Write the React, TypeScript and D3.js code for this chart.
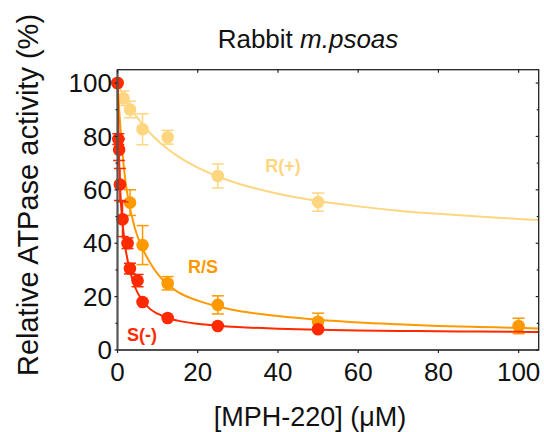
import React from "react";
import * as d3 from "d3";

// ---- data ----
const sConc = [0, 0.2, 0.4, 0.6, 1.25, 2.5, 3.1, 5, 6.25, 12.5, 25, 50];
const sVals = [100, 79, 75, 62, 49, 40, 30.5, 26, 18, 12, 9, 7.8];
const sErr = [0, 2, 4, 6, 6.5, 2, 2, 2.3, 0, 0, 0, 0];

const rsConc = [0, 3.125, 6.25, 12.5, 25, 50, 100];
const rsVals = [100, 55.2, 39.3, 25, 16.9, 10.6, 9.0];
const rsErr = [0, 4.8, 7.3, 2.5, 3.4, 3.2, 2.9];

const rConc = [0, 1.5, 3.125, 6.25, 12.5, 25, 50];
const rVals = [100, 94.3, 90.1, 82.7, 79.7, 65.2, 55.4];
const rErr = [0, 2.7, 3.1, 5.8, 2.6, 4.5, 3.4];

// fitted curves
const sCurveX = [0, 0.25, 0.5, 1, 1.5, 2, 3, 4, 5, 6, 8, 10, 12.5, 15, 20, 25, 30, 40, 50, 60, 70, 80, 90, 100, 105];
const sCurveY = [100, 80, 66, 52, 44, 38, 30.5, 25, 21.5, 19, 15.5, 13.6, 12, 11, 9.8, 9.1, 8.6, 8.0, 7.6, 7.3, 7.15, 7.0, 6.9, 6.8, 6.75];
const rsCurveX = [0, 0.5, 1, 2, 3, 4, 5, 6.25, 8, 10, 12.5, 15, 20, 25, 30, 40, 50, 60, 70, 80, 90, 100, 105];
const rsCurveY = [100, 88, 78, 63, 54, 47.5, 42.5, 38, 33, 28.5, 24.5, 21.8, 18.5, 16.3, 14.7, 12.7, 11.3, 10.3, 9.6, 9.0, 8.6, 8.3, 8.1];
const rCurveX = [0, 1, 2, 3, 5, 7.5, 10, 12.5, 15, 20, 25, 30, 40, 50, 60, 70, 80, 90, 100, 105];
const rCurveY = [100, 96.8, 94, 91.4, 86.9, 82.3, 78.5, 75.3, 72.6, 68.3, 65, 62.4, 58.5, 55.8, 53.8, 52.2, 51, 50, 49.1, 48.7];

const xTicks = [0, 20, 40, 60, 80, 100];
const yTicks = [0, 20, 40, 60, 80, 100];
const yMinor = [10, 30, 50, 70, 90];

const RED = "#ff2a00";
const ORANGE = "#ff9900";
const LIGHT = "#ffd680";
const FONT = "'Liberation Sans', Arial, sans-serif";

const L = 117.5, R = 538.7, T = 69.7, B = 350;

export default function App() {
  const x = d3.scaleLinear().domain([0, 105]).range([L, R]);
  const y = d3.scaleLinear().domain([0, 105]).range([B, T]);
  const line = d3
    .line<[number, number]>()
    .x((d) => x(d[0]))
    .y((d) => y(d[1]))
    .curve(d3.curveMonotoneX);

  const series = [
    { conc: rConc, vals: rVals, err: rErr, cx: rCurveX, cy: rCurveY, color: LIGHT },
    { conc: rsConc, vals: rsVals, err: rsErr, cx: rsCurveX, cy: rsCurveY, color: ORANGE },
    { conc: sConc, vals: sVals, err: sErr, cx: sCurveX, cy: sCurveY, color: RED },
  ];

  return (
    <svg
      width={544}
      height={432}
      style={{ position: "absolute", left: 0, top: 0, background: "#fff" }}
      fontFamily={FONT}
    >
      <rect x={0} y={0} width={544} height={432} fill="#fff" />
      {/* title */}
      <text x={308} y={48} fontSize={26} textAnchor="middle" fill="#111">
        Rabbit <tspan fontStyle="italic">m.psoas</tspan>
      </text>

      {/* series */}
      {series.map((s, i) => (
        <g key={i}>
          <path
            d={line(s.cx.map((cx, j) => [cx, s.cy[j]] as [number, number])) || ""}
            fill="none"
            stroke={s.color}
            strokeWidth={2}
          />
          {s.conc.map((c, j) =>
            s.err[j] > 0 ? (
              <g key={"e" + j} stroke={s.color} strokeWidth={1.5}>
                <line x1={x(c)} x2={x(c)} y1={y(s.vals[j] - s.err[j])} y2={y(s.vals[j] + s.err[j])} />
                <line x1={x(c) - 6} x2={x(c) + 6} y1={y(s.vals[j] - s.err[j])} y2={y(s.vals[j] - s.err[j])} />
                <line x1={x(c) - 6} x2={x(c) + 6} y1={y(s.vals[j] + s.err[j])} y2={y(s.vals[j] + s.err[j])} />
              </g>
            ) : null
          )}
          {s.conc.map((c, j) => (
            <circle key={"p" + j} cx={x(c)} cy={y(s.vals[j])} r={6.3} fill={s.color} />
          ))}
        </g>
      ))}

      {/* series labels */}
      <text x={283} y={172} fontSize={18} fontWeight="bold" textAnchor="middle" fill={LIGHT}>R(+)</text>
      <text x={203} y={273} fontSize={18} fontWeight="bold" textAnchor="middle" fill={ORANGE}>R/S</text>
      <text x={142} y={341} fontSize={18} fontWeight="bold" textAnchor="middle" fill={RED}>S(-)</text>

      {/* frame */}
      <rect x={L} y={T} width={R - L} height={B - T} fill="none" stroke="#222" strokeWidth={1.3} />
      <line x1={L} x2={L} y1={T} y2={B} stroke="#555" strokeWidth={2} />
      <line x1={L} x2={R} y1={B} y2={B} stroke="#444" strokeWidth={1.6} />

      {/* x ticks */}
      {xTicks.map((t) => (
        <g key={"x" + t}>
          <line x1={x(t)} x2={x(t)} y1={B} y2={B + 3} stroke="#222" strokeWidth={1.2} />
          <line x1={x(t)} x2={x(t)} y1={T} y2={T + 3} stroke="#222" strokeWidth={1.2} />
          <text x={x(t)} y={381} fontSize={26} textAnchor="middle" fill="#111">{t}</text>
        </g>
      ))}
      {/* y ticks */}
      {yTicks.map((t) => (
        <g key={"y" + t}>
          <line x1={L - 3} x2={L} y1={y(t)} y2={y(t)} stroke="#222" strokeWidth={1.2} />
          <line x1={R - 3} x2={R} y1={y(t)} y2={y(t)} stroke="#222" strokeWidth={1.2} />
          <text x={112} y={y(t)} dy="0.35em" fontSize={26} textAnchor="end" fill="#111">{t}</text>
        </g>
      ))}
      {yMinor.map((t) => (
        <g key={"ym" + t}>
          <line x1={L - 2} x2={L} y1={y(t)} y2={y(t)} stroke="#222" strokeWidth={1.2} />
          <line x1={R - 2} x2={R} y1={y(t)} y2={y(t)} stroke="#222" strokeWidth={1.2} />
        </g>
      ))}

      {/* axis titles */}
      <text x={310} y={426} fontSize={27} textAnchor="middle" fill="#111">[MPH-220] (μM)</text>
      <text
        transform="translate(38,195) rotate(-90)"
        fontSize={29}
        textAnchor="middle"
        fill="#111"
      >
        Relative ATPase activity (%)
      </text>
    </svg>
  );
}
